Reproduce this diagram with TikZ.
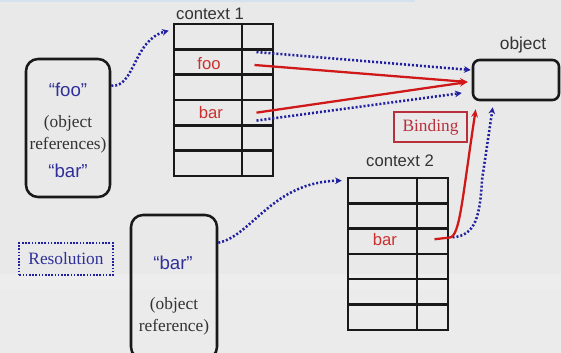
\documentclass[tikz,border=0pt]{standalone}
\usepackage{fontspec}
\setmainfont{Liberation Serif}
\setsansfont{Liberation Sans}
\usetikzlibrary{arrows.meta,calc}
\definecolor{bgtop}{HTML}{E9E9E9}
\definecolor{bglow}{HTML}{EBEBEB}
\definecolor{bgband}{HTML}{EDEDED}
\definecolor{topline}{HTML}{D4E2F0}
\definecolor{linkred}{HTML}{D01818}
\definecolor{txtred}{HTML}{CC3030}
\definecolor{bindred}{HTML}{B8303C}
\definecolor{dotblue}{HTML}{2020A0}
\definecolor{txtblue}{HTML}{30309A}
\definecolor{txtgrey}{HTML}{333333}
\begin{document}
\begin{tikzpicture}[x=0.75pt,y=-0.75pt,
  cell/.style={draw=black!90, line width=1.9pt, inner sep=0pt, minimum height=19pt},
  refbox/.style={draw=black!90, line width=1.9pt, rounded corners=9pt, inner sep=0pt},
  ctxlabel/.style={font=\sffamily\fontsize{12.5}{14}\selectfont, text=txtgrey},
  celltxt/.style={font=\sffamily\fontsize{12.5}{14}\selectfont, text=txtred},
  qtxt/.style={font=\sffamily\fontsize{14}{16}\selectfont, text=txtblue},
  paren/.style={font=\fontsize{13}{16.5}\selectfont, text=txtgrey, align=center},
  bluedot/.style={draw=dotblue, line width=1.9pt, dash pattern=on 1.5pt off 1.5pt,
    -{Stealth[length=5pt,width=5pt]}},
  redlink/.style={draw=linkred, line width=1.7pt, -{Stealth[length=6pt,width=5pt]}}]
\useasboundingbox (0,0) rectangle (561,353);
\clip (0,0) rectangle (561,353);
% background
\fill[bgtop] (0,0) rectangle (561,353);
\fill[bgband] (0,274) rectangle (561,289);
\fill[bglow] (0,289) rectangle (561,353);
\fill[topline] (0,0) rectangle (415,2);

% context 1 table
\node[ctxlabel] (c1lab) at (210,14) {context 1};
\foreach \k in {0,...,5} {
  \node[cell, minimum width=51pt] (c1l\k) at (208,{24+25.33*(\k+0.5)}) {};
  \node[cell, minimum width=23.25pt] (c1r\k) at (257.5,{24+25.33*(\k+0.5)}) {};
}
\node[celltxt] (c1foo) at (209,64) {foo};
\node[celltxt] (c1bar) at (211,113) {bar};

% context 2 table
\node[ctxlabel] (c2lab) at (400,161) {context 2};
\foreach \k in {0,...,5} {
  \node[cell, minimum width=51.75pt] (c2l\k) at (382.5,{178+25.3*(\k+0.5)}) {};
  \node[cell, minimum width=23.25pt] (c2r\k) at (432.5,{178+25.3*(\k+0.5)}) {};
}
\node[celltxt] (c2bar) at (385,240) {bar};

% object
\node[ctxlabel, font=\sffamily\fontsize{13}{15}\selectfont] (objlab) at (523,45) {object};
\node[draw=black!90, line width=1.9pt, rounded corners=5pt, minimum width=64.5pt,
  minimum height=30pt, inner sep=0pt] (obj) at (516,80) {};

% reference boxes
\node[refbox, minimum width=63pt, minimum height=103.5pt] (box1) at (68,128) {};
\node[qtxt] (b1foo) at (68,90) {“foo”};
\node[paren] (b1par) at (68,134) {(object\\references)};
\node[qtxt] (b1bar) at (68,171) {“bar”};

\node[refbox, minimum width=64.5pt, minimum height=108pt] (box2) at (174,287) {};
\node[qtxt] (b2bar) at (173,263) {“bar”};
\node[paren] (b2par) at (174,316) {(object\\reference)};

% labels
\node[draw=bindred, line width=1.3pt, minimum width=54.5pt, minimum height=22pt, inner sep=0pt,
  font=\fontsize{13}{15}\selectfont, text=bindred] (bind) at (430.5,127) {Binding};
\node[draw=dotblue, line width=1.3pt, dash pattern=on 1.2pt off 1.2pt, minimum width=70pt,
  minimum height=24pt, inner sep=0pt, font=\fontsize{13}{15}\selectfont, text=txtblue]
  (resol) at (66,259) {Resolution};

% resolution links
\draw[bluedot] ($(box1.north east)+(0,28)$) .. controls (135,88) and (133,40) .. ($(c1l0.west)+(-4,-6)$);
\draw[bluedot] ($(box2.north east)+(0,29)$) .. controls (252,236) and (272,182) .. ($(c2l0.west)+(-5,-10)$);
\draw[bluedot] ($(c1r1.north)+(-1,4)$) -- ($(obj.west)+(-1,-10)$);
\draw[bluedot] ($(c1r3.south)+(-1,-6)$) -- ($(obj.west)+(-10,13)$);
\draw[bluedot] ($(c2r2.center)+(20,-4)$) .. controls (476,236) and (480,215) .. (482,180) -- ($(obj.south west)+(21,6)$);

% binding links
\draw[redlink] ($(c1r1.center)+(-3,3)$) -- ($(obj.west)+(-4,2)$);
\draw[redlink] ($(c1r3.center)+(-1,0)$) -- ($(obj.west)+(-4,2)$);
\draw[redlink] ($(c2r2.center)+(2,-2)$) -- (450,237.5) .. controls (460,235) and (462,200) .. ($(obj.south west)+(4,8)$);
\end{tikzpicture}
\end{document}
